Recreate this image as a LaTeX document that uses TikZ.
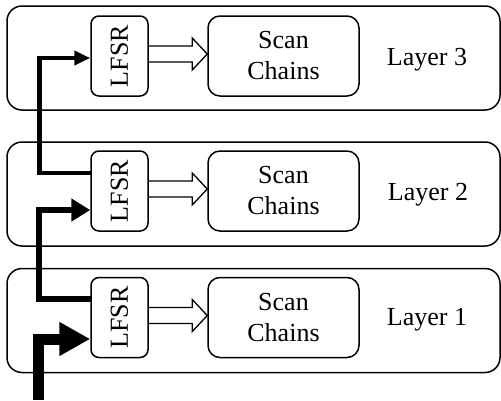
\documentclass[tikz,border=0pt]{standalone}
\usepackage{fontspec}
\setmainfont{Liberation Serif}
\usetikzlibrary{arrows.meta,calc}

\tikzset{
  layerbox/.style={draw, line width=1.5pt, rounded corners=15pt,
    minimum width=493pt, minimum height=104pt, inner sep=0pt},
  lfsrbox/.style={draw, line width=1.5pt, rounded corners=8pt,
    minimum width=57pt, minimum height=80pt, inner sep=0pt},
  chainbox/.style={draw, line width=1.5pt, rounded corners=12pt,
    minimum width=151pt, minimum height=80pt, inner sep=0pt, align=center},
  bigtext/.style={font=\fontsize{26}{31}\selectfont},
  hollow/.style={draw, line width=1.3pt, line join=miter},
  feedline/.style={draw, line join=miter},
}

% wide open arrow from an LFSR into its scan chains
\newcommand{\openarrow}[2]{%
  \draw[hollow] ($(#1.east)+(0,-10)$) -- ($(#2.west)+(-15,-10)$)
    -- ($(#2.west)+(-15,-18)$) -- ($(#2.west)+(0,-2)$)
    -- ($(#2.west)+(-15,14)$) -- ($(#2.west)+(-15,6)$)
    -- ($(#1.east)+(0,6)$);}

\begin{document}
\begin{tikzpicture}[x=1pt, y=-1pt, bigtext]
\useasboundingbox (0,0) rectangle (501,400);

% layers
\node[layerbox] (L3) at (253.5,58) {};
\node[layerbox] (L2) at (253.5,194) {};
\node[layerbox] (L1) at (253.5,320.5) {};

% LFSRs
\node[lfsrbox] (l3) at (119.5,56) {\rotatebox{90}{LFSR}};
\node[lfsrbox] (l2) at (119.5,191) {\rotatebox{90}{LFSR}};
\node[lfsrbox] (l1) at (119.5,317.5) {\rotatebox{90}{LFSR}};

% scan chains
\node[chainbox] (s3) at (283.5,56) {Scan\\Chains};
\node[chainbox] (s2) at (283.5,191) {Scan\\Chains};
\node[chainbox] (s1) at (283.5,317.5) {Scan\\Chains};

% layer labels
\node[anchor=base] (t3) at (427,65) {Layer 3};
\node[anchor=base] (t2) at (428,200) {Layer 2};
\node[anchor=base] (t1) at (427,325) {Layer 1};

% LFSR to scan chains
\openarrow{l3}{s3}
\openarrow{l2}{s2}
\openarrow{l1}{s1}

% seed path between layers
\coordinate (feed) at (38.5,400);
\coordinate (b2a) at (39,299);
\coordinate (b2b) at (39,210);
\coordinate (b3a) at (39.5,173);
\coordinate (b3b) at (39.5,58);

\draw[feedline, line width=11pt, -{Triangle[length=31pt,width=32pt]}]
  (feed) |- ($(l1.west)+(0,21.5)$);
\draw[feedline, line width=6pt, -{Triangle[length=19pt,width=22pt]}]
  ($(l1.west)+(2,-18.5)$) -- (b2a) -- (b2b) -- ($(l2.west)+(0,19)$);
\draw[feedline, line width=4.5pt, -{Triangle[length=16pt,width=14pt]}]
  ($(l2.west)+(2,-18)$) -- (b3a) -- (b3b) -- ($(l3.west)+(0,2)$);
\end{tikzpicture}
\end{document}
